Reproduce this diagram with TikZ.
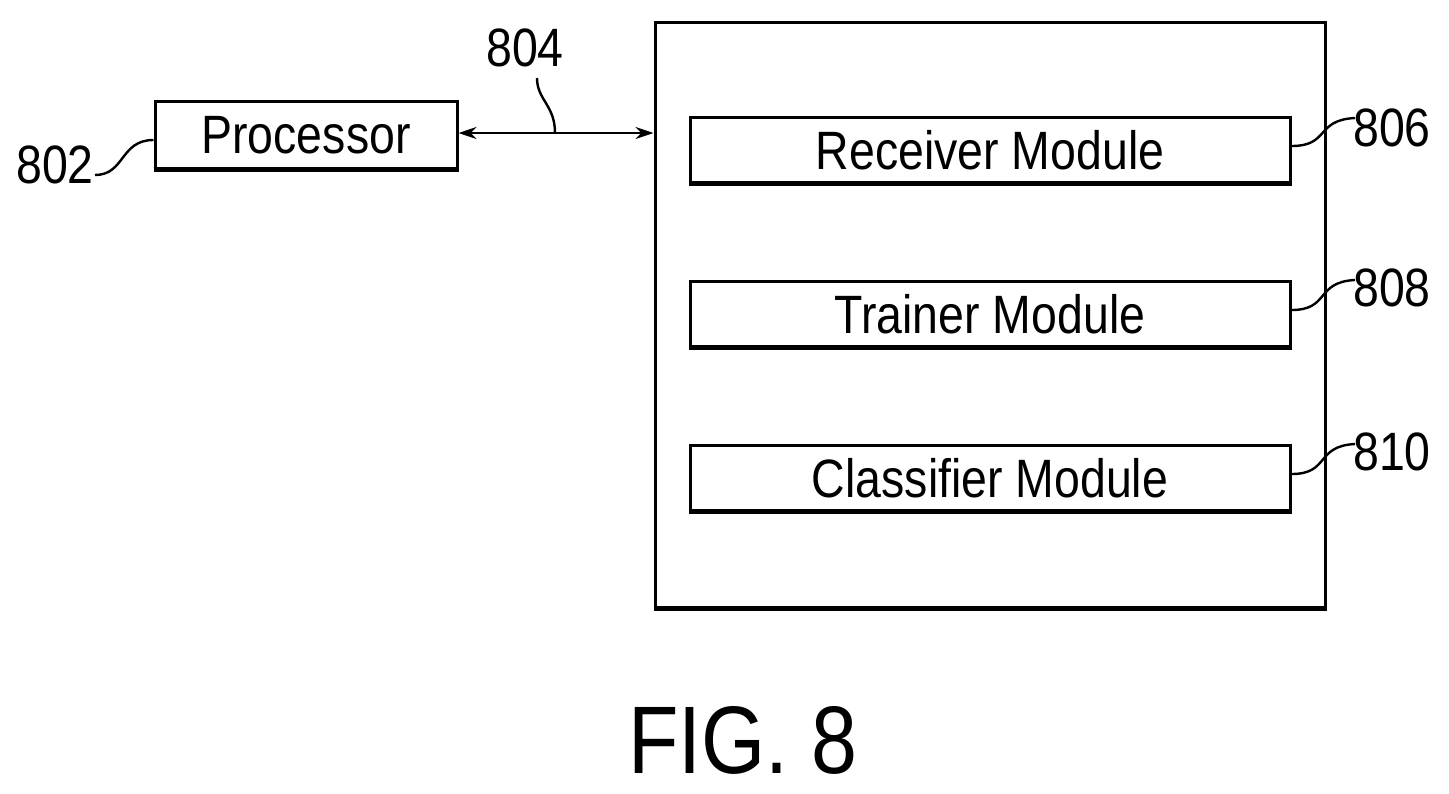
\documentclass[tikz,border=0pt]{standalone}
\usepackage{fontspec}
\setmainfont[FakeStretch=0.86]{Liberation Sans}
\usetikzlibrary{arrows.meta}
\begin{document}
\begin{tikzpicture}[x=0.5pt,y=-0.5pt,
  box/.style={draw,line width=1.5pt,inner sep=0pt},
  txt/.style={font=\fontsize{27}{30}\selectfont,inner sep=0pt},
  lead/.style={line width=1.2pt}]
\useasboundingbox (0,0) rectangle (1449,793);
\node[box,minimum width=151pt,minimum height=33.5pt] (proc) at (306,134.5) {};
\node[txt] (proct) at (306,135) {Processor};
\node[box,minimum width=335pt,minimum height=292.5pt] (big) at (990,314.5) {};
\node[box,minimum width=300pt,minimum height=32.5pt] (rec) at (990,149.5) {};
\node[txt] at (990,150) {Receiver Module};
\node[box,minimum width=300pt,minimum height=32.5pt] (tra) at (990,313.5) {};
\node[txt] at (990,314) {Trainer Module};
\node[box,minimum width=300pt,minimum height=32.5pt] (cla) at (990,477.5) {};
\node[txt] at (990,478) {Classifier Module};
\draw[line width=2.5pt] (rec.south west) -- (rec.south east);
\draw[line width=2.5pt] (tra.south west) -- (tra.south east);
\draw[line width=2.5pt] (cla.south west) -- (cla.south east);
\draw[line width=2.5pt] (proc.south west) -- (proc.south east);
\draw[line width=2.5pt] (big.south west) -- (big.south east);
\draw[line width=1.3pt,{Stealth[length=9pt,width=6pt]}-{Stealth[length=9pt,width=6pt]}] (proc.east |- 0,133) coordinate (a1) -- (big.west |- 0,133) coordinate (a2);
\node[txt] (l802) at (55,165) {802};
\node[txt] (l804) at (525,48) {804};
\node[txt] (l806) at (1392,128) {806};
\node[txt] (l808) at (1392,288) {808};
\node[txt] (l810) at (1392,452) {810};
\coordinate (p804) at (555,133);
\draw[lead] (95,175) .. controls (125,175) and (120,140) .. (proc.west |- 0,140);
\draw[lead] (537,78) .. controls (537,100) and (555,105) .. (p804);
\draw[lead] (rec.east |- 0,146) .. controls (1330,146) and (1315,120) .. (1355,118);
\draw[lead] (tra.east |- 0,310) .. controls (1330,310) and (1315,282) .. (1355,280);
\draw[lead] (cla.east |- 0,474) .. controls (1330,474) and (1315,446) .. (1355,444);
\node[font=\fontsize{48}{52}\selectfont,inner sep=0pt] (fig) at (743,740) {FIG. 8};
\end{tikzpicture}
\end{document}
